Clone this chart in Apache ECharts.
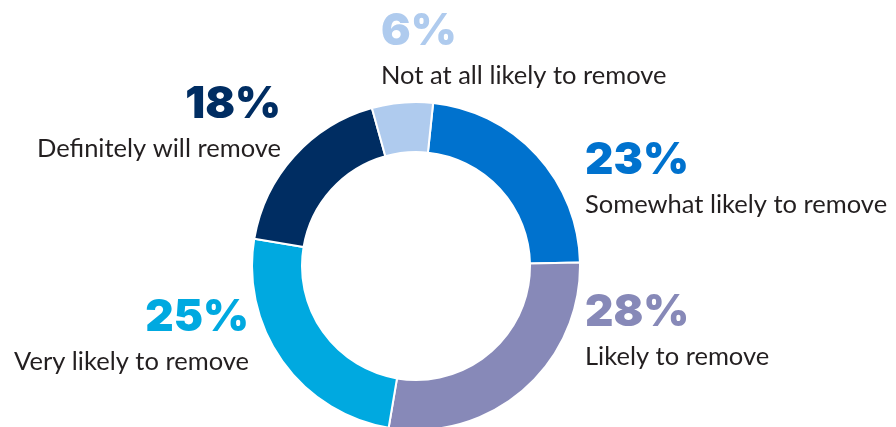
<!DOCTYPE html>
<html>
<head>
<meta charset="utf-8">
<style>
  html, body { margin: 0; padding: 0; background: #ffffff; }
  #chart { width: 896px; height: 427px; }
</style>
<script src="https://cdn.jsdelivr.net/npm/echarts@6/dist/echarts.min.js"></script>
</head>
<body>
<div id="chart"></div>
<script>
// Survey answers, clockwise from just right of twelve o'clock
const categories = [
  'Somewhat likely to remove',
  'Likely to remove',
  'Very likely to remove',
  'Definitely will remove',
  'Not at all likely to remove'
];
const shares = [23, 28, 25, 18, 6];
const sliceColors = ['#0072CE', '#8789B8', '#00A9E0', '#002D62', '#AFCBEE'];

// Where each label block sits: anchor x, top y, horizontal alignment
const labelSpots = [
  { x: 585, y: 138, align: 'left' },
  { x: 585, y: 290, align: 'left' },
  { x: 249, y: 295, align: 'right' },
  { x: 281, y: 82, align: 'right' },
  { x: 381, y: 9, align: 'left' }
];

const chart = echarts.init(document.getElementById('chart'), null, { renderer: 'canvas' });

const pieData = categories.map((name, i) => ({
  name: name,
  value: shares[i],
  itemStyle: { color: sliceColors[i] },
  label: {
    align: labelSpots[i].align,
    rich: {
      p: {
        fontFamily: 'Inter',
        fontWeight: 900,
        fontSize: 44,
        lineHeight: 46,
        color: sliceColors[i],
        align: labelSpots[i].align
      },
      d: {
        fontFamily: 'Lato',
        fontWeight: 400,
        fontSize: 25.5,
        lineHeight: 42,
        color: '#231F20',
        align: labelSpots[i].align
      }
    }
  }
}));

chart.setOption({
  backgroundColor: '#ffffff',
  animation: false,
  series: [{
    type: 'pie',
    center: [416, 266],
    radius: [114, 164],
    startAngle: 84,
    clockwise: true,
    avoidLabelOverlap: false,
    itemStyle: { borderColor: '#ffffff', borderWidth: 2 },
    label: {
      show: true,
      position: 'outside',
      formatter: p => '{p|' + p.value + '%}\n{d|' + p.name + '}'
    },
    labelLine: { show: false },
    labelLayout: params => {
      const s = labelSpots[params.dataIndex];
      return { x: s.x, y: s.y, align: s.align, verticalAlign: 'top' };
    },
    emphasis: { disabled: true },
    data: pieData
  }]
});
</script>
</body>
</html>
